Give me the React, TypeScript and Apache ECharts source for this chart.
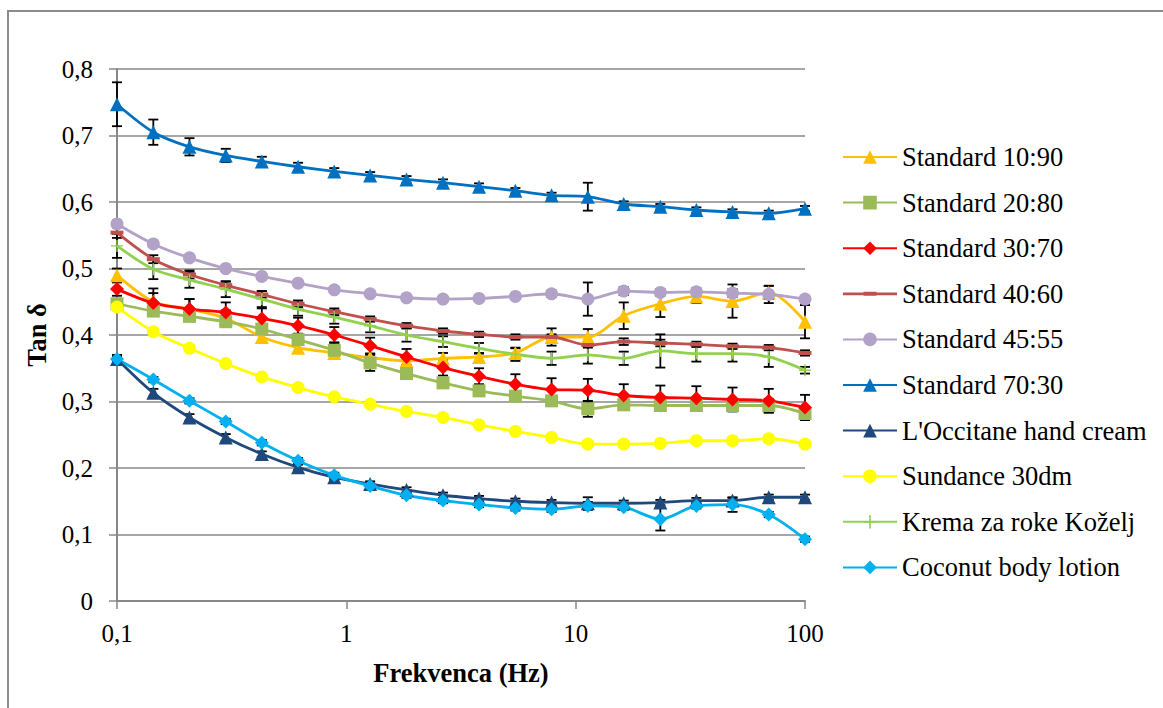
import React, { useEffect, useRef } from "react";
import * as echarts from "echarts";

const frequencies = [0.1, 0.144, 0.207, 0.298, 0.428, 0.616, 0.886, 1.27, 1.83, 2.64, 3.79, 5.46, 7.85, 11.3, 16.2, 23.4, 33.6, 48.3, 69.5, 100];

const xTicks = ["0,1", "1", "10", "100"];
const yTicks = ["0", "0,1", "0,2", "0,3", "0,4", "0,5", "0,6", "0,7", "0,8"];

const seriesNames = [
  "Standard 10:90",
  "Standard 20:80",
  "Standard 30:70",
  "Standard 40:60",
  "Standard 45:55",
  "Standard 70:30",
  "L'Occitane hand cream",
  "Sundance 30dm",
  "Krema za roke Koželj",
  "Coconut body lotion",
];

const std1090 = [0.490, 0.450, 0.439, 0.425, 0.397, 0.381, 0.373, 0.366, 0.361, 0.365, 0.367, 0.373, 0.397, 0.397, 0.429, 0.447, 0.458, 0.451, 0.464, 0.420];
const std2080 = [0.447, 0.436, 0.428, 0.420, 0.409, 0.393, 0.377, 0.358, 0.342, 0.328, 0.316, 0.308, 0.301, 0.289, 0.295, 0.294, 0.294, 0.294, 0.294, 0.282];
const std3070 = [0.469, 0.448, 0.439, 0.434, 0.425, 0.414, 0.400, 0.384, 0.367, 0.351, 0.338, 0.326, 0.318, 0.317, 0.309, 0.306, 0.305, 0.303, 0.301, 0.291];
const std4060 = [0.554, 0.514, 0.491, 0.475, 0.461, 0.447, 0.435, 0.424, 0.414, 0.406, 0.401, 0.397, 0.397, 0.385, 0.390, 0.388, 0.386, 0.383, 0.381, 0.373];
const std4555 = [0.567, 0.537, 0.516, 0.500, 0.488, 0.478, 0.468, 0.462, 0.456, 0.454, 0.455, 0.458, 0.462, 0.454, 0.466, 0.464, 0.465, 0.463, 0.461, 0.454];
const std7030 = [0.747, 0.705, 0.683, 0.670, 0.661, 0.653, 0.646, 0.640, 0.634, 0.629, 0.623, 0.617, 0.610, 0.608, 0.597, 0.593, 0.588, 0.585, 0.583, 0.590];
const loccitane = [0.364, 0.313, 0.276, 0.246, 0.221, 0.201, 0.186, 0.176, 0.167, 0.159, 0.154, 0.150, 0.148, 0.147, 0.147, 0.148, 0.151, 0.151, 0.156, 0.156];
const sundance = [0.442, 0.405, 0.380, 0.357, 0.337, 0.321, 0.307, 0.296, 0.285, 0.276, 0.265, 0.255, 0.246, 0.236, 0.236, 0.237, 0.241, 0.241, 0.244, 0.236];
const krema = [0.534, 0.499, 0.483, 0.469, 0.454, 0.439, 0.427, 0.414, 0.400, 0.390, 0.380, 0.371, 0.365, 0.370, 0.365, 0.376, 0.372, 0.372, 0.367, 0.347];
const coconut = [0.364, 0.333, 0.301, 0.270, 0.238, 0.211, 0.189, 0.173, 0.159, 0.151, 0.145, 0.140, 0.138, 0.143, 0.141, 0.123, 0.143, 0.145, 0.130, 0.093];

// error bar half-widths (±)
const err1090 = [0.010, 0.020, 0.015, 0.012, 0.008, 0.008, 0.006, 0.006, 0.006, 0.008, 0.006, 0.007, 0.013, 0.012, 0.020, 0.020, 0.010, 0.025, 0.010, 0.025];
const err2080 = [0.006, 0.006, 0.006, 0.006, 0.006, 0.006, 0.012, 0.012, 0.006, 0.006, 0.006, 0.006, 0.006, 0.012, 0.006, 0.006, 0.006, 0.006, 0.010, 0.006];
const err3070 = [0.010, 0.015, 0.015, 0.015, 0.015, 0.012, 0.012, 0.012, 0.012, 0.012, 0.012, 0.015, 0.017, 0.017, 0.017, 0.018, 0.018, 0.018, 0.018, 0.019];
const err4060 = [0.008, 0.006, 0.006, 0.005, 0.005, 0.005, 0.005, 0.004, 0.004, 0.004, 0.004, 0.004, 0.004, 0.004, 0.005, 0.005, 0.004, 0.004, 0.004, 0.004];
const err4555 = [0.005, 0.004, 0.004, 0.004, 0.004, 0.004, 0.004, 0.004, 0.004, 0.004, 0.004, 0.004, 0.005, 0.025, 0.006, 0.005, 0.005, 0.006, 0.013, 0.005];
const err7030 = [0.033, 0.019, 0.013, 0.010, 0.007, 0.006, 0.005, 0.005, 0.005, 0.005, 0.005, 0.004, 0.004, 0.021, 0.004, 0.004, 0.004, 0.004, 0.004, 0.004];
const errLoc = [0.006, 0.006, 0.005, 0.005, 0.004, 0.004, 0.004, 0.004, 0.004, 0.004, 0.004, 0.004, 0.004, 0.009, 0.004, 0.004, 0.004, 0.004, 0.004, 0.004];
const errSun = [0.004, 0.004, 0.004, 0.004, 0.004, 0.004, 0.004, 0.004, 0.004, 0.004, 0.004, 0.004, 0.004, 0.004, 0.004, 0.004, 0.004, 0.004, 0.004, 0.004];
const errKrema = [0.018, 0.015, 0.012, 0.012, 0.012, 0.010, 0.010, 0.010, 0.010, 0.008, 0.008, 0.010, 0.010, 0.013, 0.010, 0.025, 0.012, 0.012, 0.015, 0.005];
const errCoco = [0.004, 0.004, 0.004, 0.004, 0.004, 0.004, 0.004, 0.004, 0.004, 0.004, 0.004, 0.004, 0.004, 0.006, 0.004, 0.017, 0.004, 0.011, 0.004, 0.004];

const FONT = "'Liberation Serif', 'Times New Roman', serif";
const PLUS = "path://M5.3,0H6.7V5.3H12V6.7H6.7V12H5.3V6.7H0V5.3H5.3Z";
const DASH_ICON = "path://M0,0H0.01V0.01H0ZM53.99,16.99H54V17H53.99ZM0,7.1H54V9.9H0ZM20.5,6.5H33.5V10.5H20.5Z";

const defs = [
  { name: seriesNames[0], values: std1090, err: err1090, color: "#FFC000", symbol: "triangle", size: 14 },
  { name: seriesNames[1], values: std2080, err: err2080, color: "#9BBB59", symbol: "rect", size: 13 },
  { name: seriesNames[2], values: std3070, err: err3070, color: "#FF0000", symbol: "diamond", size: 14 },
  { name: seriesNames[3], values: std4060, err: err4060, color: "#C0504D", symbol: "rect", size: [13, 4] },
  { name: seriesNames[4], values: std4555, err: err4555, color: "#B3A2C7", symbol: "circle", size: 13 },
  { name: seriesNames[5], values: std7030, err: err7030, color: "#0070C0", symbol: "triangle", size: 14 },
  { name: seriesNames[6], values: loccitane, err: errLoc, color: "#1F497D", symbol: "triangle", size: 14 },
  { name: seriesNames[7], values: sundance, err: errSun, color: "#FFFF00", symbol: "circle", size: 13 },
  { name: seriesNames[8], values: krema, err: errKrema, color: "#92D050", symbol: PLUS, size: 12 },
  { name: seriesNames[9], values: coconut, err: errCoco, color: "#00B0F0", symbol: "diamond", size: 14 },
];

const renderErr = (params: any, api: any) => {
  const x = api.value(0);
  const lo = api.coord([x, api.value(1)]);
  const hi = api.coord([x, api.value(2)]);
  const w = 5;
  const style = { stroke: "#000", lineWidth: 1.8 };
  return {
    type: "group",
    children: [
      { type: "line", shape: { x1: lo[0], y1: lo[1], x2: hi[0], y2: hi[1] }, style },
      { type: "line", shape: { x1: lo[0] - w, y1: lo[1], x2: lo[0] + w, y2: lo[1] }, style },
      { type: "line", shape: { x1: hi[0] - w, y1: hi[1], x2: hi[0] + w, y2: hi[1] }, style },
    ],
  };
};

export default function App() {
  const ref = useRef<HTMLDivElement>(null);
  useEffect(() => {
    if (!ref.current) return;
    const chart = echarts.init(ref.current, undefined, { renderer: "svg" });
    const errSeries = defs.map((d) => ({
      type: "custom",
      name: "err " + d.name,
      silent: true,
      z: 1,
      renderItem: renderErr,
      encode: { x: 0, y: [1, 2] },
      data: frequencies.map((f, i) => [f, d.values[i] - d.err[i], d.values[i] + d.err[i]]),
    }));
    const lineSeries = defs.map((d) => ({
      type: "line",
      name: d.name,
      z: 3,
      smooth: 0.3,
      symbol: d.symbol,
      symbolSize: d.size,
      showAllSymbol: true,
      lineStyle: { color: d.color, width: 2.8 },
      itemStyle: { color: d.color, borderWidth: 0 },
      data: frequencies.map((f, i) => [f, d.values[i]]),
    }));
    chart.setOption({
      animation: false,
      backgroundColor: "#fff",
      graphic: [
        {
          type: "rect",
          shape: { x: 8, y: 11, width: 1170, height: 720 },
          style: { fill: "none", stroke: "#8c8c8c", lineWidth: 2 },
          silent: true,
          z: -10,
        },
      ],
      grid: { left: 117, top: 69, right: 358, bottom: 107 },
      legend: {
        orient: "vertical",
        left: 842,
        top: 142,
        padding: 0,
        itemWidth: 54,
        itemHeight: 17,
        itemGap: 15.6,
        selectedMode: false,
        textStyle: { fontFamily: FONT, fontSize: 26.5, color: "#000", lineHeight: 30 },
        data: seriesNames.map((n) =>
          n === "Standard 40:60" ? { name: n, icon: DASH_ICON, itemStyle: { borderWidth: 0 } } : { name: n }
        ),
      },
      xAxis: {
        type: "log",
        logBase: 10,
        min: 0.1,
        max: 100,
        name: "Frekvenca (Hz)",
        nameLocation: "middle",
        nameGap: 58,
        nameTextStyle: { fontFamily: FONT, fontSize: 26.5, fontWeight: "bold", color: "#000" },
        axisLine: { show: true, lineStyle: { color: "#888", width: 2 } },
        axisTick: { show: true, length: 8, lineStyle: { color: "#888", width: 1.5 } },
        minorTick: { show: false },
        splitLine: { show: false },
        axisLabel: {
          fontFamily: FONT,
          fontSize: 25,
          color: "#000",
          margin: 20,
          formatter: (v: number) => {
            const idx = Math.round(Math.log10(v)) + 1;
            return xTicks[idx] ?? String(v);
          },
        },
      },
      yAxis: {
        type: "value",
        min: 0,
        max: 0.8,
        interval: 0.1,
        name: "Tan δ",
        nameLocation: "middle",
        nameGap: 64,
        nameRotate: 90,
        nameTextStyle: { fontFamily: FONT, fontSize: 26.5, fontWeight: "bold", color: "#000" },
        axisLine: { show: true, lineStyle: { color: "#888", width: 2 } },
        axisTick: { show: true, length: 8, lineStyle: { color: "#888", width: 1.5 } },
        splitLine: { show: true, lineStyle: { color: "#888", width: 1.5 } },
        axisLabel: {
          fontFamily: FONT,
          fontSize: 25,
          color: "#000",
          margin: 24,
          formatter: (v: number) => yTicks[Math.round(v * 10)] ?? String(v),
        },
      },
      series: [...errSeries, ...lineSeries],
    });
    return () => chart.dispose();
  }, []);
  return (
    <div
      ref={ref}
      style={{ position: "absolute", left: 0, top: 0, width: 1163, height: 708 }}
    />
  );
}
